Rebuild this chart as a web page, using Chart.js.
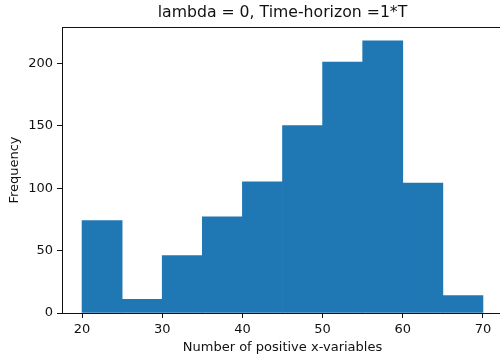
<!DOCTYPE html>
<html>
<head>
<meta charset="utf-8">
<title>Histogram</title>
<script src="https://cdn.jsdelivr.net/npm/chart.js@4"></script>
<style>
  html, body { margin: 0; padding: 0; background: #fff; overflow: hidden; }
  #wrap { width: 565px; height: 360px; }
</style>
</head>
<body>
<div id="wrap"><canvas id="hist"></canvas></div>
<script>
// bin edges (width 5) and the counts per bin
const binStarts = [20, 25, 30, 35, 40, 45, 50, 55, 60, 65];
const binWidth  = 5;
const counts    = [74, 11, 46, 77, 105, 150, 201, 218, 104, 14];

const xTicks = [20, 30, 40, 50, 60, 70];
const yTicks = [0, 50, 100, 150, 200];

// each bar sits on the middle of its bin
const points = binStarts.map((s, i) => ({ x: s + binWidth / 2, y: counts[i] }));

const FONT = 'DejaVu Sans';
const INK  = '#111';

// box round the plot area, drawn over the bars like axis spines
const frame = {
  id: 'frame',
  afterDatasetsDraw(chart) {
    const { ctx, chartArea: a } = chart;
    ctx.save();
    ctx.strokeStyle = INK;
    ctx.lineWidth = 1;
    ctx.strokeRect(Math.round(a.left) + 0.5, Math.round(a.top) + 0.5,
                   Math.round(a.right - a.left), Math.round(a.bottom - a.top));
    ctx.restore();
  }
};

new Chart(document.getElementById('hist'), {
  type: 'bar',
  data: {
    datasets: [{
      data: points,
      backgroundColor: '#1f77b4',
      borderWidth: 0,
      barPercentage: 1,
      categoryPercentage: 1
    }]
  },
  options: {
    responsive: true,
    maintainAspectRatio: false,
    animation: false,
    layout: { padding: { left: 0, right: 62, top: 0, bottom: 0 } },
    plugins: {
      legend: { display: false },
      tooltip: { enabled: false },
      title: {
        display: true,
        fullSize: false,   // centre over the plot area only
        text: 'lambda = 0, Time-horizon =1*T',
        color: INK,
        font: { family: FONT, size: 15.7, weight: 'normal' },
        padding: { top: 3.5, bottom: 4.7 }
      }
    },
    scales: {
      x: {
        type: 'linear',
        offset: false,
        min: 17.5,
        max: 72.5,
        afterBuildTicks: (s) => { s.ticks = xTicks.map(v => ({ value: v })); },
        afterFit: (s) => { s.height = 47; },
        grid: { display: true, offset: false, drawOnChartArea: false, drawTicks: true,
                tickLength: 5, color: INK },
        border: { display: false },
        ticks: { color: INK, padding: 3.7, maxRotation: 0,
                 font: { family: FONT, size: 13 } },
        title: {
          display: true,
          text: 'Number of positive x-variables',
          color: INK,
          font: { family: FONT, size: 13 },
          padding: { top: 0, bottom: 4.7 }
        }
      },
      y: {
        min: 0,
        max: 229,
        afterBuildTicks: (s) => { s.ticks = yTicks.map(v => ({ value: v })); },
        afterFit: (s) => { s.width = 62; },
        grid: { display: true, drawOnChartArea: false, drawTicks: true,
                tickLength: 5, color: INK },
        border: { display: false },
        ticks: { color: INK, padding: 4, font: { family: FONT, size: 13 } },
        title: {
          display: true,
          text: 'Frequency',
          color: INK,
          font: { family: FONT, size: 13 },
          padding: { top: 7.2, bottom: 0 }
        }
      }
    }
  },
  plugins: [frame]
});
</script>
</body>
</html>
